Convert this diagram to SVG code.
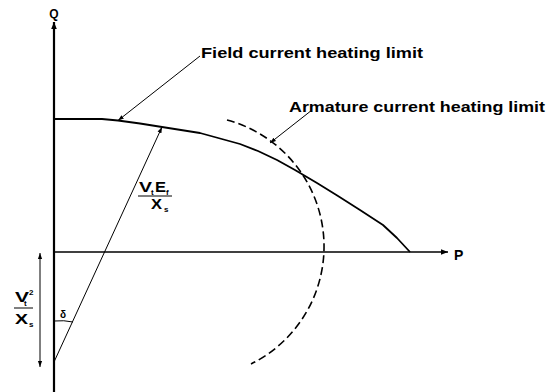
<svg xmlns="http://www.w3.org/2000/svg" width="557" height="392" viewBox="0 0 557 392">
<defs>
<marker id="ah" viewBox="0 0 10 10" refX="10" refY="5" markerWidth="7" markerHeight="7" markerUnits="userSpaceOnUse" orient="auto-start-reverse">
<path d="M0,1 L10,5 L0,9 z" fill="#000"/>
</marker>
<marker id="ahs" viewBox="0 0 10 10" refX="10" refY="5" markerWidth="6" markerHeight="6" markerUnits="userSpaceOnUse" orient="auto-start-reverse">
<path d="M0,1.5 L10,5 L0,8.5 z" fill="#000"/>
</marker>
<style>
.ax{stroke:#000;fill:none}
.thin{stroke:#000;stroke-width:1;fill:none}
.t{font-family:"Liberation Sans",Arial,sans-serif;font-weight:bold;fill:#000}
.m{font-family:"Liberation Sans",Arial,sans-serif;font-weight:bold;fill:#000}
</style>
</defs>
<rect width="557" height="392" fill="#fff"/>

<g id="axes">
<line class="ax" x1="54" y1="392" x2="54" y2="22" stroke-width="2.2" marker-end="url(#ah)"/>
<line class="ax" x1="54" y1="252" x2="448" y2="252" stroke-width="1.6" marker-end="url(#ah)"/>
<text class="t" x="54" y="18" font-size="12" text-anchor="middle">Q</text>
<text class="t" x="454" y="260" font-size="14" font-weight="normal">P</text>
</g>

<g id="field-limit">
<polyline class="ax" stroke-width="1.8" stroke-linejoin="round" points="54,119 102,119 118,120.5 140,123.5 162,127 200,133 220,138.5 240,144 258,151 277,160 295,170 317,183 338,196 360,210 383,225 397,238 410,252"/>
</g>

<g id="armature-limit">
<path class="ax" stroke-width="1.6" stroke-dasharray="8,4" d="M227,120 A131,131 0 0 1 251,364"/>
</g>

<g id="connectors">
<line class="thin" x1="200" y1="56" x2="118" y2="120.5" marker-end="url(#ahs)"/>
<line class="thin" x1="312" y1="110" x2="270" y2="143" marker-end="url(#ahs)"/>
<line class="thin" x1="54" y1="362" x2="162" y2="127" marker-end="url(#ahs)"/>
<line class="thin" x1="40" y1="253" x2="40" y2="367" marker-start="url(#ahs)" marker-end="url(#ahs)"/>
<path class="thin" d="M54,321 Q64,320 73,322"/>
</g>

<g id="label-field">
<text class="t" x="201" y="58" font-size="14" textLength="222" lengthAdjust="spacingAndGlyphs">Field current heating limit</text>
</g>
<g id="label-armature">
<text class="t" x="289" y="112" font-size="14" textLength="256" lengthAdjust="spacingAndGlyphs">Armature current heating limit</text>
</g>

<g id="label-vtef">
<text class="m" x="139" y="192" font-size="14" font-weight="normal" textLength="13" lengthAdjust="spacingAndGlyphs">V</text>
<text class="m" x="151" y="195" font-size="8">t</text>
<text class="m" x="155" y="192" font-size="14" font-weight="normal" textLength="11" lengthAdjust="spacingAndGlyphs">E</text>
<text class="m" x="166" y="195" font-size="8">f</text>
<line class="thin" x1="138" y1="196" x2="172" y2="196" stroke-width="1.3"/>
<text class="m" x="151" y="209" font-size="14" font-weight="normal" textLength="11" lengthAdjust="spacingAndGlyphs">X</text>
<text class="m" x="164" y="212" font-size="8">s</text>
</g>

<g id="label-vt2">
<text class="m" x="15" y="302" font-size="14" font-weight="normal" textLength="14" lengthAdjust="spacingAndGlyphs">V</text>
<text class="m" x="29" y="295" font-size="8">2</text>
<text class="m" x="24" y="306" font-size="8">t</text>
<line class="thin" x1="14" y1="308" x2="33" y2="308" stroke-width="1.3"/>
<text class="m" x="15" y="324" font-size="14" font-weight="normal" textLength="13" lengthAdjust="spacingAndGlyphs">X</text>
<text class="m" x="29" y="327" font-size="8">s</text>
</g>

<g id="label-delta">
<text class="m" x="60" y="318" font-size="10">δ</text>
</g>
</svg>
